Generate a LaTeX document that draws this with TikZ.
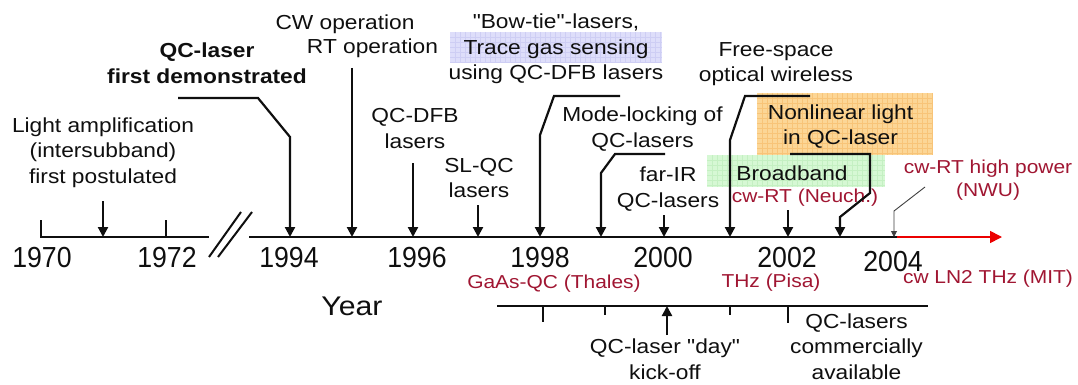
\documentclass[tikz,border=0pt]{standalone}
\usepackage{fontspec}
\setmainfont{Liberation Sans}[FakeStretch=1.12, Ligatures=TeXOff]
\newfontfamily\yearfont{Liberation Sans}[FakeStretch=0.92]
\usetikzlibrary{arrows.meta}
\definecolor{ink}{RGB}{15,15,15}
\definecolor{qcred}{RGB}{160,22,50}
\definecolor{arrowred}{RGB}{235,0,0}
\definecolor{bluehl}{RGB}{222,222,250}
\definecolor{bluegrid}{RGB}{206,206,244}
\definecolor{orangehl}{RGB}{252,214,150}
\definecolor{orangegrid}{RGB}{248,196,120}
\definecolor{greenhl}{RGB}{214,248,212}
\definecolor{greengrid}{RGB}{196,240,194}
\begin{document}
\begin{tikzpicture}[x=1pt,y=-1pt,
  lbl/.style={align=center, inner sep=0pt, text=ink, font=\fontsize{20.3}{25.5}\selectfont},
  boldlbl/.style={lbl, font=\fontsize{20.3}{25.5}\selectfont\bfseries},
  rlbl/.style={align=center, inner sep=0pt, text=qcred, font=\fontsize{18.7}{23}\selectfont},
  yr/.style={inner sep=0pt, text=ink, font=\yearfont\fontsize{29}{29}\selectfont},
  axisline/.style={line width=2.8pt, draw=ink},
  tickline/.style={line width=2pt, draw=ink},
  pin/.style={line width=2.2pt, draw=ink, line join=miter, -{Triangle[length=10pt,width=10pt]}},
  thinpin/.style={line width=0.9pt, draw=ink!80, -{Triangle[length=6pt,width=6pt]}},
]
\useasboundingbox (0,0) rectangle (1078,385);

% ---------- highlight boxes with a fine grid ----------
\fill[bluehl] (450,32) rectangle (662,63);
\foreach \gx in {455,460,...,660} \draw[bluegrid, line width=0.5pt] (\gx,32) -- (\gx,63);
\foreach \gy in {37,42,...,62} \draw[bluegrid, line width=0.5pt] (450,\gy) -- (662,\gy);

\fill[orangehl] (757,93) rectangle (933,155);
\foreach \gx in {762,767,...,932} \draw[orangegrid, line width=0.5pt] (\gx,93) -- (\gx,155);
\foreach \gy in {98,103,...,153} \draw[orangegrid, line width=0.5pt] (757,\gy) -- (933,\gy);

\fill[greenhl] (707,155) rectangle (885,187);
\foreach \gx in {712,717,...,882} \draw[greengrid, line width=0.5pt] (\gx,155) -- (\gx,187);
\foreach \gy in {160,165,...,185} \draw[greengrid, line width=0.5pt] (707,\gy) -- (885,\gy);

% ---------- event labels ----------
\node[lbl] (light) at (103,152.5) {Light amplification\\(intersubband)\\first postulated};
\node[boldlbl] (qcfirst) at (207,63) {QC-laser\\first demonstrated};
\node[lbl] (cw1) at (345,24.5) {CW operation};
\node[lbl] (cw2) at (372.5,48.5) {RT operation};
\node[lbl] (bowtie) at (556,49) {"Bow-tie"-lasers,\\Trace gas sensing\\using QC-DFB lasers};
\node[lbl] (qcdfb) at (415,128.5) {QC-DFB\\lasers};
\node[lbl] (slqc) at (479,178) {SL-QC\\lasers};
\node[lbl] (modelock) at (642.5,129) {Mode-locking of\\QC-lasers};
\node[lbl] (farir) at (668,189) {far-IR\\QC-lasers};
\node[lbl] (freespace) at (776,64) {Free-space\\optical wireless};
\node[lbl] (nonlinear) at (840.5,126.5) {Nonlinear light\\in QC-laser};
\node[lbl] (broadband) at (792,173.5) {Broadband};
\node[rlbl] (neuch) at (805,197.5) {cw-RT (Neuch.)};
\node[rlbl] (nwu) at (988,180) {cw-RT high power\\(NWU)};
\node[rlbl] (gaas) at (554,283.5) {GaAs-QC (Thales)};
\node[rlbl] (pisa) at (771,282.5) {THz (Pisa)};
\node[rlbl] (mit) at (988,279) {cw LN2 THz (MIT)};
\node[lbl, font=\fontsize{27}{27}\selectfont] (yearlbl) at (352,306) {Year};
\node[lbl] (kickoff) at (665,359) {QC-laser "day"\\kick-off};
\node[lbl] (commercial) at (856.5,346.5) {QC-lasers\\commercially\\available};

% ---------- year labels ----------
\node[yr] (y1970) at (42,257.5) {1970};
\node[yr] (y1972) at (167,257.5) {1972};
\node[yr] (y1994) at (289,257.5) {1994};
\node[yr] (y1996) at (417,257.5) {1996};
\node[yr] (y1998) at (540,257.5) {1998};
\node[yr] (y2000) at (663,257.5) {2000};
\node[yr] (y2002) at (787,257.5) {2002};
\node[yr] (y2004) at (893,261.5) {2004};

% ---------- main time axis ----------
\coordinate (axL0) at (40,237);
\coordinate (axL1) at (209,237);
\coordinate (axR0) at (249,237);
\coordinate (axR1) at (897,237);
\coordinate (axtip) at (1002,237);
\coordinate (t1970) at (41,237);
\coordinate (t1971) at (103,237);
\coordinate (t1972) at (166,237);
\coordinate (t1994) at (290,237);
\coordinate (t1995) at (352,237);
\coordinate (t1996) at (413,237);
\coordinate (t1997) at (478,237);
\coordinate (t1998) at (540,237);
\coordinate (t1999) at (601,237);
\coordinate (t2000) at (664,237);
\coordinate (t2001) at (730,237);
\coordinate (t2002) at (788,237);
\coordinate (t2003) at (840,237);
\coordinate (t2004) at (894,237);

\draw[axisline] (axL0) -- (axL1);
\draw[axisline] (axR0) -- (axR1);
\draw[arrowred, line width=1.6pt, -{Triangle[length=12pt,width=12pt]}] (axR1) -- (axtip);
\draw[tickline] (t1970) -- ++(0,-17);
\draw[tickline] (t1972) -- ++(0,-17);

% axis break
\draw[line width=2pt, ink] (209,257) -- (241,212);
\draw[line width=2pt, ink] (218,257) -- (252,212);

% ---------- pointers onto the axis ----------
\coordinate (s1971) at (103,201);
\draw[pin] (s1971) -- (t1971);

\coordinate (s1994) at (178,98);
\draw[pin] (s1994) -- (258,98) -- (290,137) -- (t1994);

\coordinate (s1995) at (352,68);
\draw[pin] (s1995) -- (t1995);

\coordinate (s1996) at (413,163);
\draw[pin] (s1996) -- (t1996);

\coordinate (s1997) at (478,205);
\draw[pin] (s1997) -- (t1997);

\coordinate (s1998) at (620,96);
\draw[pin] (s1998) -- (554,96) -- (540,135) -- (t1998);

\coordinate (s1999) at (665,154);
\draw[pin] (s1999) -- (615,154) -- (601,173) -- (t1999);

\coordinate (s2000) at (664,215);
\draw[pin] (s2000) -- (t2000);

\coordinate (s2001) at (810,96);
\draw[pin] (s2001) -- (745,96) -- (730,140) -- (t2001);

\coordinate (s2002) at (788,210);
\draw[pin] (s2002) -- (t2002);

\coordinate (s2003) at (790,154);
\draw[pin] (s2003) -- (870,154) -- (870,193) -- (840,217) -- (t2003);

\coordinate (s2004) at (925,187);
\draw[thinpin] (s2004) -- (894,211) -- (t2004);

% ---------- lower axis ----------
\coordinate (bx0) at (497,306);
\coordinate (bx1) at (928,306);
\draw[tickline] (bx0) -- (bx1);
\coordinate (b1998) at (543,306);
\coordinate (b1999) at (605,306);
\coordinate (b2000) at (667,306);
\coordinate (b2001) at (730,306);
\coordinate (b2002) at (788,306);
\draw[tickline] (b1998) -- ++(0,16);
\draw[tickline] (b1999) -- ++(0,9);
\draw[tickline] (b2001) -- ++(0,9);
\draw[line width=2.4pt, ink] (777,306) -- (b2002) -- ++(0,17);
\coordinate (skick) at (667,335);
\draw[pin] (skick) -- (b2000);

\end{tikzpicture}
\end{document}
